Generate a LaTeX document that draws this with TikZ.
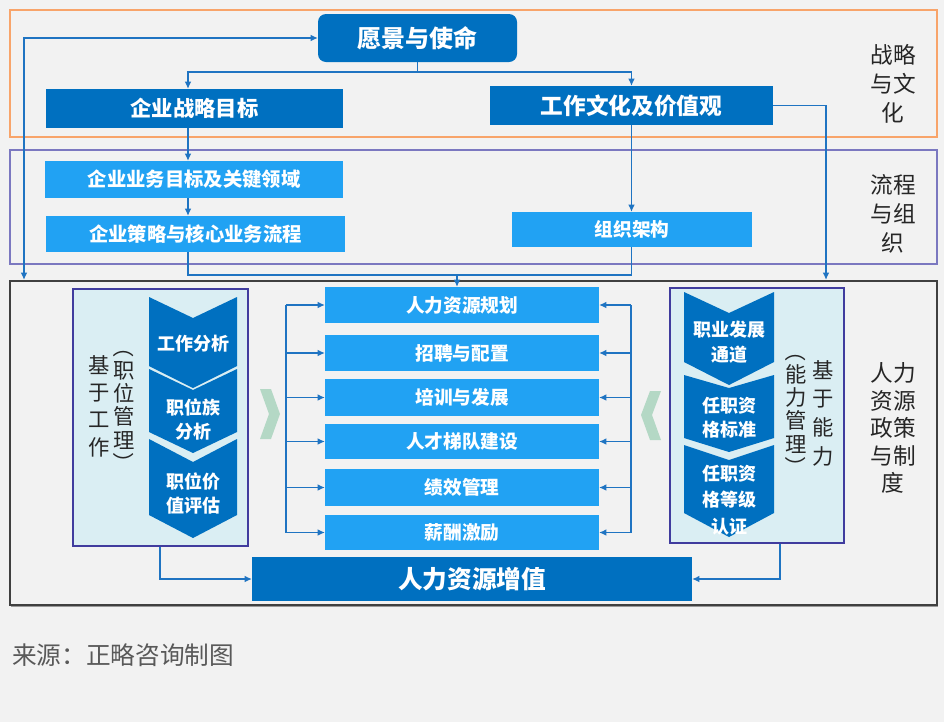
\documentclass[tikz,border=0pt]{standalone}
\usepackage{fontspec}
\setmainfont{Noto Sans CJK SC}
\usetikzlibrary{arrows.meta,fit,calc}
\definecolor{bg}{HTML}{F2F2F2}
\definecolor{dkblue}{HTML}{0070C0}
\definecolor{ltblue}{HTML}{21A2F3}
\definecolor{lnblue}{HTML}{1F74C2}
\definecolor{panelfill}{HTML}{DAEEF3}
\definecolor{panelline}{HTML}{403C9E}
\definecolor{grn}{HTML}{B4D8C5}
\definecolor{orangefr}{HTML}{F8A46A}
\definecolor{purplefr}{HTML}{7B78C0}
\definecolor{sidetxt}{HTML}{262626}
\definecolor{srctxt}{HTML}{595959}
\newcommand{\fs}[2]{\fontsize{#1}{#2}\selectfont}
\newcommand{\chevshape}[6]{\fill[dkblue] (#1,#3) -- ({(#1+#2)/2},#4) -- (#2,#3) -- (#2,#5) -- ({(#1+#2)/2},#6) -- (#1,#5) -- cycle;}
\newcommand{\bx}[7]{\node[#1, minimum width={(#5-#3)*0.75pt}, minimum height={(#6-#4)*0.75pt}] (#2) at ({(#3+#5)/2},{(#4+#6)/2}) {#7};}
\newcommand{\vparo}{\rotatebox[origin=c]{-90}{（}}
\newcommand{\vparc}{\rotatebox[origin=c]{-90}{）}}
\begin{document}
\begin{tikzpicture}[x=0.75pt,y=-0.75pt,
  conn/.style={draw=lnblue, line width=1.3pt},
  arr/.style={conn, -{Latex[length=5.5pt,width=5pt]}},
  arrtwo/.style={conn, {Latex[length=5.5pt,width=5pt]}-{Latex[length=5.5pt,width=5pt]}},
  dkbox/.style={fill=dkblue, text=white, inner sep=0pt, outer sep=0pt},
  ltbox/.style={fill=ltblue, text=white, inner sep=0pt, outer sep=0pt},
  side/.style={text=sidetxt, align=center, inner sep=0pt},
  chevtxt/.style={text=white, align=center, inner sep=0pt},
]
\fill[bg] (0,0) rectangle (944,722);
\useasboundingbox (0,0) rectangle (944,722);

% frames
\bx{draw=orangefr, line width=1.3pt, inner sep=0pt}{frA}{10}{10}{937}{137}{}
\bx{draw=purplefr, line width=1.3pt, inner sep=0pt}{frB}{10}{150}{937}{264}{}
\fill[black!40] (11,283) rectangle (938,607);
\bx{draw=black!75, fill=bg, line width=1.5pt, inner sep=0pt}{hrframe}{10}{281}{937}{605}{}

% side labels
\node[side, font=\fs{17}{21.5}] (lblA) at (893,84) {战略\\与文\\化};
\node[side, font=\fs{17}{21.5}] (lblB) at (893,214) {流程\\与组\\织};
\node[side, font=\fs{17}{20.6}] (lblC) at (893,428) {人力\\资源\\政策\\与制\\度};

% top boxes
\bx{dkbox, rounded corners=6pt, font=\bfseries\fs{18}{20}}{vision}{318}{14}{517}{62}{愿景与使命}
\bx{dkbox, font=\bfseries\fs{16}{20}}{goal}{46}{89}{343}{128}{企业战略目标}
\bx{dkbox, font=\bfseries\fs{17}{20}}{culture}{490}{86}{773}{125}{工作文化及价值观}

% process boxes
\bx{ltbox, font=\bfseries\fs{14.5}{18}}{bizgoal}{45}{161}{343}{198}{企业业务目标及关键领域}
\bx{ltbox, font=\bfseries\fs{14.5}{18}}{strategy}{46}{216}{345}{252}{企业策略与核心业务流程}
\bx{ltbox, font=\bfseries\fs{14}{18}}{org}{512}{212}{752}{247}{组织架构}

% HR boxes
\bx{ltbox, font=\bfseries\fs{14}{18}}{hrA}{325}{287}{599}{323}{人力资源规划}
\bx{ltbox, font=\bfseries\fs{14}{18}}{hrB}{325}{335}{599}{371}{招聘与配置}
\bx{ltbox, font=\bfseries\fs{14}{18}}{hrC}{325}{379}{599}{416}{培训与发展}
\bx{ltbox, font=\bfseries\fs{14}{18}}{hrD}{325}{424}{599}{459}{人才梯队建设}
\bx{ltbox, font=\bfseries\fs{14}{18}}{hrE}{325}{469}{599}{506}{绩效管理}
\bx{ltbox, font=\bfseries\fs{14}{18}}{hrF}{325}{515}{599}{550}{薪酬激励}
\bx{dkbox, font=\bfseries\fs{18.5}{20}}{hrvalue}{252}{557}{692}{601}{人力资源增值}

% panels
\bx{draw=panelline, fill=panelfill, line width=1.2pt, inner sep=0pt}{lpanel}{73}{289}{248}{546}{}
\bx{draw=panelline, fill=panelfill, line width=1.2pt, inner sep=0pt}{rpanel}{670}{288}{844}{543}{}

% left chevrons
\chevshape{149}{237}{297}{318}{366}{388}
\chevshape{149}{237}{369}{390}{432}{453}
\chevshape{149}{237}{439}{462}{515}{538}
\node[chevtxt, font=\bfseries\fs{13.5}{18}] (lcA) at (193,344) {工作分析};
\node[chevtxt, font=\bfseries\fs{13.5}{18}] (lcB) at (193,420) {职位族\\分析};
\node[chevtxt, font=\bfseries\fs{13.5}{18}] (lcC) at (193,493) {职位价\\值评估};
\node[side, font=\fs{16}{20.5}] (lvA) at (99,406) {基\\于\\工\\作};
\node[side, font=\fs{16}{17.5}] (lvB) at (124,405) {\vparo\\职\\位\\管\\理\\\vparc};

% right chevrons
\chevshape{684}{774}{292}{313}{362}{385}
\chevshape{684}{774}{375}{388}{438}{452}
\chevshape{684}{774}{445}{460}{513}{537}
\node[chevtxt, font=\bfseries\fs{13.5}{18.5}] (rcA) at (729,342) {职业发展\\通道};
\node[chevtxt, font=\bfseries\fs{13.5}{18}] (rcB) at (729,418) {任职资\\格标准};
\node[chevtxt, font=\bfseries\fs{13.5}{20}] (rcC) at (729,500) {任职资\\格等级\\认证};
\node[side, font=\fs{16}{17.5}] (rvB) at (796,409) {\vparo\\能\\力\\管\\理\\\vparc};
\node[side, font=\fs{16}{21.5}] (rvA) at (823,413) {基\\于\\能\\力};

% green chevrons
\fill[grn] (260,389) -- (271,389) -- (280,414) -- (271,439) -- (260,439) -- (269,414) -- cycle;
\fill[grn] (661,391) -- (650,391) -- (641,415) -- (650,440) -- (661,440) -- (652,415) -- cycle;

% coordinates
\coordinate (lx) at (24,0);
\coordinate (rx) at (826,0);
\coordinate (gx) at (188,0);
\coordinate (busT) at (417.5,72);
\coordinate (busB) at (457,275);
\coordinate (lbx) at (286,0);
\coordinate (rbx) at (631,0);
\coordinate (lpx) at (160,0);
\coordinate (rpx) at (780,0);

% connectors top
\draw[arrtwo] (hrframe.north -| lx) |- (vision.west);
\draw[conn] (vision.south) -- (busT);
\draw[arr] (busT) -| (goal.north -| gx);
\draw[arr] (busT) -| (culture.north);
\draw[arr] (culture.east) -| (hrframe.north -| rx);
\draw[arr] (goal.south -| gx) -- (bizgoal.north -| gx);
\draw[arr] (bizgoal.south -| gx) -- (strategy.north -| gx);
\draw[arr] (culture.south) -- (org.north -| culture.south);
\draw[conn] (strategy.south -| gx) |- (busB);
\draw[conn] (org.south -| culture.south) |- (busB);
\draw[arr] (busB) -- (hrA.north -| busB);

% brackets
\draw[conn] (hrA.west -| lbx) -- (hrF.west -| lbx);
\foreach \n in {hrA,hrB,hrC,hrD,hrE,hrF}{\draw[arr] (\n.west -| lbx) -- (\n.west);}
\draw[conn] (hrA.east -| rbx) -- (hrF.east -| rbx);
\foreach \n in {hrA,hrB,hrC,hrD,hrE,hrF}{\draw[arr] (\n.east -| rbx) -- (\n.east);}

% panels to value
\draw[arr] (lpanel.south -| lpx) |- (hrvalue.west);
\draw[arr] (rpanel.south -| rpx) |- (hrvalue.east);

% source
\node[anchor=west, text=srctxt, font=\fs{18.5}{22}, inner sep=0pt] (src) at (12,655) {来源：正略咨询制图};
\end{tikzpicture}
\end{document}
